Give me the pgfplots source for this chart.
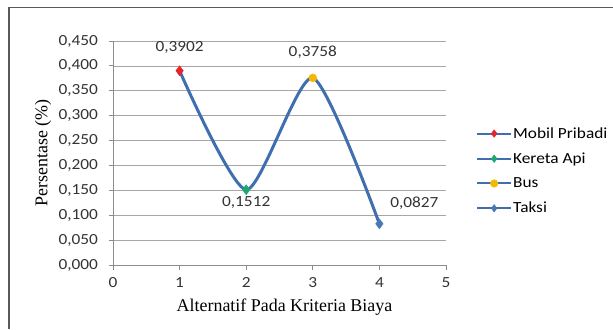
\documentclass[border=0pt]{standalone}
\usepackage{pgfplots}
\pgfplotsset{compat=1.18}
\usepackage{fontspec}
\setmainfont[FakeStretch=1.12]{Carlito}
\newfontfamily\serif{Liberation Serif}
\definecolor{lineblue}{HTML}{3F6FAE}
\definecolor{mred}{HTML}{E3262B}
\definecolor{mgreen}{HTML}{1FA86E}
\definecolor{myellow}{HTML}{F5B800}
\definecolor{mblue}{HTML}{4A78B5}
\newcommand{\sfs}{\fontsize{15.5}{18}\selectfont}
\begin{document}
\begin{tikzpicture}[x=1bp,y=1bp]
\useasboundingbox (0,0) rectangle (613,329);
\draw[black!65, line width=1.3bp] (9,0) -- (9,321.5) -- (613,321.5);
\begin{axis}[
  at={(113bp,64bp)}, anchor=south west,
  scale only axis, width=333bp, height=224bp,
  xmin=0, xmax=5, ymin=0, ymax=0.45,
  xtick={0,1,2,3,4,5},
  ytick={0,0.05,0.1,0.15,0.2,0.25,0.3,0.35,0.4,0.45},
  ymajorgrids, grid style={black!35, line width=0.6bp},
  axis x line*=bottom, axis y line*=left,
  axis line style={black!45, line width=0.8bp, -},
  tick style={black!45, line width=0.8bp},
  tick align=outside, major tick length=4.5bp,
  tick label style={font=\sfs, text=black!80},
  /pgf/number format/assume math mode=true,
  yticklabel style={xshift=-7bp, /pgf/number format/.cd, fixed, fixed zerofill, precision=3, use comma},
  xticklabel style={yshift=-4.5bp, /pgf/number format/.cd, fixed, precision=0},
  xlabel={Alternatif Pada Kriteria Biaya},
  ylabel={Persentase (\%)},
  xlabel style={font=\serif\fontsize{18}{20}\selectfont, at={(axis description cs:0.515,-0.1875)}, anchor=center},
  ylabel style={font=\serif\fontsize{18}{20}\selectfont, at={(axis description cs:-0.21,0.5)}, anchor=center, rotate=0},
  legend style={at={(axis description cs:1.09,0.42)}, anchor=west, draw=none, fill=none, inner sep=0pt,
    font=\sfs, row sep=11bp, nodes={inner sep=1bp}},
  legend cell align=left,
  legend image code/.code={\draw[#1, line width=2bp, mark=none] (0bp,0bp) -- (34bp,0bp); \draw[#1, line width=2bp, mark size=3.8bp] plot coordinates {(17bp,0bp)};},
  clip=false,
]
\addplot[lineblue, line width=3bp, smooth, tension=0.4, forget plot] coordinates {(1,0.3902)(2,0.1512)(3,0.3758)(4,0.0827)};
\addplot[lineblue, mark=diamond*, mark size=5bp, mark options={fill=mred, draw=mred, line width=0.4bp}] coordinates {(1,0.3902)};
\addplot[lineblue, mark=diamond*, mark size=5bp, mark options={fill=mgreen, draw=mgreen, line width=0.4bp}] coordinates {(2,0.1512)};
\addplot[lineblue, mark=*, mark size=4bp, mark options={fill=myellow, draw=myellow, line width=0.4bp}] coordinates {(3,0.3758)};
\addplot[lineblue, mark=diamond*, mark size=5bp, mark options={fill=mblue, draw=mblue, line width=0.4bp}] coordinates {(4,0.0827)};
\legend{Mobil Pribadi, Kereta Api, Bus, Taksi}
\node[font=\sfs, text=black!80] at (axis cs:1,0.3902) [yshift=23bp] {0,3902};
\node[font=\sfs, text=black!80] at (axis cs:2,0.1512) [yshift=-13bp] {0,1512};
\node[font=\sfs, text=black!80] at (axis cs:3,0.3758) [yshift=26bp] {0,3758};
\node[font=\sfs, text=black!80] at (axis cs:4,0.0827) [xshift=35bp, yshift=21bp] {0,0827};
\end{axis}
\end{tikzpicture}
\end{document}
